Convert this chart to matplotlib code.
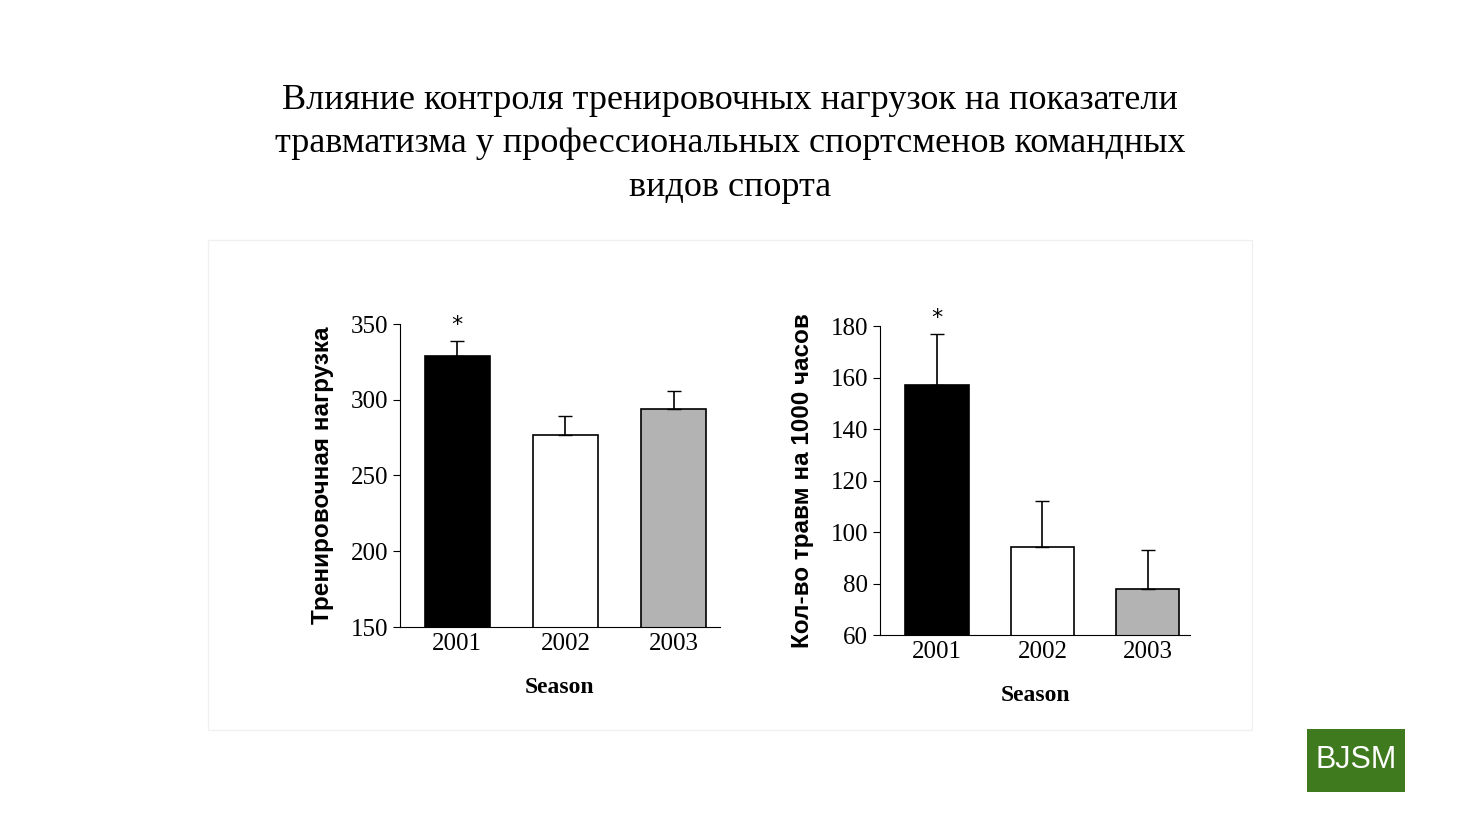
import matplotlib.pyplot as plt
from matplotlib.patches import Rectangle

seasons = ["2001", "2002", "2003"]
load_vals = [329, 277, 294]
load_err = [10, 12, 12]
inj_vals = [157, 94, 78]
inj_err = [20, 18, 15]
colors = ["black", "white", "#b3b3b3"]

fig = plt.figure(figsize=(14.6, 8.21), dpi=100)
W, H = 1460, 821

def box(x0, y0, x1, y1):
    return [x0 / W, 1 - y1 / H, (x1 - x0) / W, (y1 - y0) / H]

fig.text(0.5, 1 - 144 / H,
         "Влияние контроля тренировочных нагрузок на показатели\n"
         "травматизма у профессиональных спортсменов командных\nвидов спорта",
         ha="center", va="center", fontsize=26, family="Liberation Serif",
         linespacing=1.42)

fig.patches.append(Rectangle((208 / W, 1 - 730 / H), 1044 / W, 490 / H,
                             transform=fig.transFigure, facecolor="white",
                             edgecolor="#f0f0f0", lw=1, zorder=-5))

def panel(rect, vals, errs, ylim, yticks, ylabel, xlim):
    ax = fig.add_axes(rect)
    ax.patch.set_alpha(0)
    x = range(len(vals))
    ax.bar(x, vals, width=0.6, color=colors, edgecolor="black", lw=1.2)
    ax.errorbar(x, vals, yerr=[[0] * 3, errs], fmt="none", ecolor="black",
                capsize=5, lw=1.2)
    ax.text(0, vals[0] + errs[0] + (ylim[1] - ylim[0]) * 0.02, "*",
            ha="center", va="bottom", fontsize=16)
    ax.set_ylim(*ylim)
    ax.set_xlim(*xlim)
    ax.set_yticks(yticks)
    ax.set_xticks(list(x))
    ax.set_xticklabels(seasons)
    for s in ["top", "right"]:
        ax.spines[s].set_visible(False)
    ax.tick_params(axis="x", length=0, pad=4)
    ax.tick_params(axis="y", direction="out", length=5)
    for lab in ax.get_xticklabels() + ax.get_yticklabels():
        lab.set_family("Liberation Serif")
        lab.set_fontsize(18)
    ax.set_xlabel("Season", family="Liberation Serif", fontweight="bold",
                  fontsize=17, labelpad=16)
    ax.set_ylabel(ylabel, family="Liberation Sans", fontweight="bold",
                  fontsize=17.5, labelpad=12)
    return ax

panel(box(400, 324, 720, 627), load_vals, load_err, (150, 350),
      [150, 200, 250, 300, 350], "Тренировочная нагрузка", (-0.53, 2.43))
panel(box(880, 326, 1190, 635), inj_vals, inj_err, (60, 180),
      [60, 80, 100, 120, 140, 160, 180], "Кол-во травм на 1000 часов",
      (-0.54, 2.4))

fig.patches.append(Rectangle((1307 / W, 1 - 792 / H), 98 / W, 63 / H,
                             transform=fig.transFigure, facecolor="#3f7a1e"))
fig.text(1356 / W, 1 - 760 / H, "BJSM", color="white", fontsize=22,
         ha="center", va="center", family="Liberation Sans")

fig.savefig("out.png", dpi=100)
